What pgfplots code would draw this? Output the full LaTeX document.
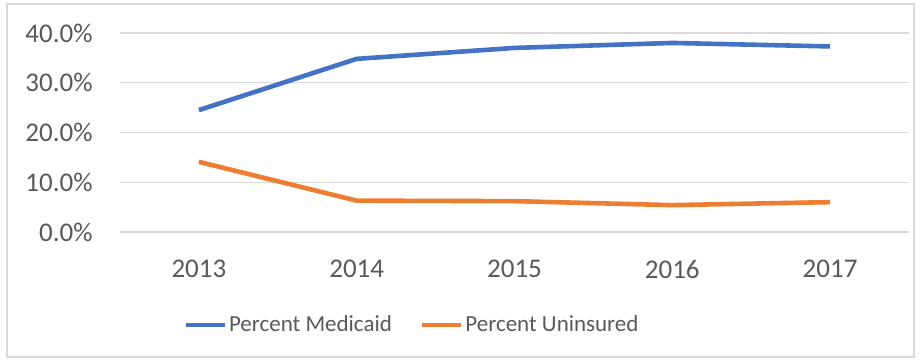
\documentclass[border=0pt]{standalone}
\usepackage{pgfplots}
\pgfplotsset{compat=1.18}
\usepackage{fontspec}
\setmainfont{Carlito}
\definecolor{mblue}{HTML}{4472C4}
\definecolor{morange}{HTML}{ED7D31}
\definecolor{tgray}{HTML}{595959}
\definecolor{ggray}{HTML}{D9D9D9}
\begin{document}
\begin{tikzpicture}[x=1pt,y=1pt]
\useasboundingbox (-60,-65) rectangle (400.5,116);
\draw[ggray,line width=0.6pt] (-56.5,-62.5) rectangle (397,114);
\begin{axis}[
  at={(0,0)}, anchor=south west,
  scale only axis,
  width=394.5pt, height=99.5pt,
  xmin=-0.5, xmax=4.5, ymin=0, ymax=40,
  axis line style={draw=none},
  clip=false,
  xtick={0,1,2,3,4},
  xticklabels={2013,2014,2015,2016,2017},
  ytick={0,10,20,30,40},
  yticklabels={0.0\%,10.0\%,20.0\%,30.0\%,40.0\%},
  ymajorgrids,
  grid style={ggray,line width=0.6pt},
  major tick length=0pt,
  tick label style={font=\fontsize{13.5}{16}\selectfont, text=tgray},
  yticklabel style={anchor=east, inner sep=0pt, xshift=-13.5pt},
  xticklabel style={anchor=center, inner sep=0pt, yshift=-18.5pt},
  legend style={draw=none, fill=none, at={(31.5pt,-46.5pt)}, anchor=west,
    font=\fontsize{11.5}{14}\selectfont, text=tgray,
    legend columns=2, inner sep=0pt,
    nodes={inner xsep=1pt, inner ysep=1pt},
    /tikz/every even column/.append style={column sep=13pt}},
  legend image code/.code={\draw[#1] (0pt,0pt) -- (19.5pt,0pt);},
  legend cell align=left,
]
\addplot[mblue, line width=2.3pt] coordinates {(0,24.5) (1,34.8) (2,37.0) (3,38.0) (4,37.3)};
\addlegendentry{Percent Medicaid}
\addplot[morange, line width=2.3pt] coordinates {(0,14.1) (1,6.3) (2,6.2) (3,5.4) (4,6.0)};
\addlegendentry{Percent Uninsured}
\end{axis}
\end{tikzpicture}
\end{document}
